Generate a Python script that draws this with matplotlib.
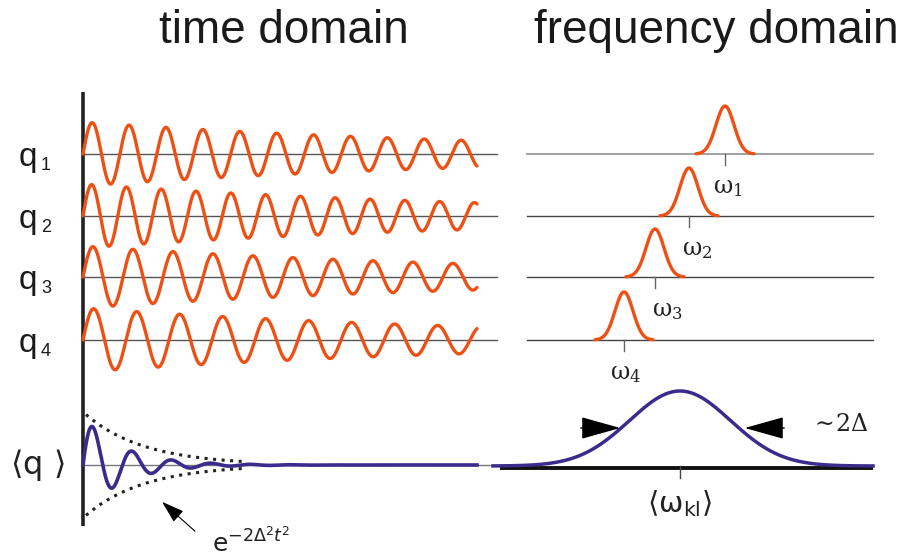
import numpy as np
import matplotlib.pyplot as plt
import matplotlib as mpl

mpl.rcParams['mathtext.fontset'] = 'dejavusans'

# time domain: individual oscillators q1..q4 (time in px units)
row_names = ['1', '2', '3', '4']
periods = [36.9, 34.8, 40.0, 43.0]
amp0 = [32, 32, 31, 32]
decay_time = 450.0
t_end = 394

# frequency domain: narrow lines at omega_1..omega_4
omega_centres = [725, 689, 655, 624]
omega_height = 48
omega_sigma = 9.0

# ensemble average <q> and its envelope
mean_period = 39.5
mean_amp = 49
mean_decay = 0.0257
env_amp = 53
env_decay = 0.017
env_end = 162

# broadened spectrum
mean_centre = 680
mean_height = 75
mean_sigma = 50.5

# layout (pixels)
W, H = 903, 556
x0 = 83
left_end = 497
row_y = [154, 216, 277, 340]
mean_y = 465
spec_x = (527, 873)
omega_label_x = [713, 682, 652, 610]

orange = '#EE5014'
blue = '#3C2A8C'

fig = plt.figure(figsize=(W / 100, H / 100), dpi=100)
ax = fig.add_axes([0, 0, 1, 1])
ax.set_xlim(0, W)
ax.set_ylim(H, 0)
ax.axis('off')

sans = 'Liberation Sans'

# titles
ax.text(284, 43, 'time domain', fontsize=33, family=sans, color='#1a1a1a',
        ha='center', va='baseline')
ax.text(716, 43, 'frequency domain', fontsize=33, family=sans, color='#1a1a1a',
        ha='center', va='baseline')

# vertical time axis
ax.plot([x0, x0], [92, 526], color='#222222', lw=2.6, solid_capstyle='butt')

t = np.linspace(0, t_end, 1500)
for i, name in enumerate(row_names):
    ry = row_y[i]
    ax.plot([x0, left_end], [ry, ry], color='#555555', lw=1, zorder=1)
    y = amp0[i] * np.exp(-t / decay_time) * np.sin(2 * np.pi * t / periods[i])
    ax.plot(x0 + t, ry - y, color=orange, lw=2.4, solid_capstyle='round', zorder=2)
    ax.text(19, ry + 12, 'q', fontsize=24, family=sans, color='#1a1a1a',
            ha='left', va='baseline')
    ax.text(41, ry + 16, name, fontsize=13, family=sans, color='#1a1a1a',
            ha='left', va='baseline')

    # spectrum line
    base_col = '#999999' if i == 0 else '#444444'
    ax.plot(spec_x, [ry, ry], color=base_col, lw=1.3 if i == 0 else 1, zorder=1)
    c = omega_centres[i]
    w = np.linspace(c - 29, c + 29, 300)
    g = omega_height * np.exp(-(w - c) ** 2 / (2 * omega_sigma ** 2))
    ax.plot(w, ry - g, color=orange, lw=2.4, solid_capstyle='round', zorder=2)
    ax.plot([c, c], [ry, ry + 11], color='#666666', lw=1)
    ax.text(omega_label_x[i], ry + 39, r'$\mathrm{\omega}_{%s}$' % name, fontsize=17,
            color='#222222', ha='left', va='baseline', math_fontfamily='dejavuserif')

# ensemble average
ax.plot([x0, left_end], [mean_y, mean_y], color='#777777', lw=1, zorder=1)
tm = np.linspace(0, t_end, 3000)
ym = mean_amp * np.exp(-mean_decay * tm) * np.sin(2 * np.pi * tm / mean_period)
ax.plot(x0 + tm, mean_y - ym, color=blue, lw=2.6, zorder=3)
te = np.linspace(3, env_end, 200)
env = env_amp * np.exp(-env_decay * te)
ax.plot(x0 + te, mean_y - env, color='#222222', lw=2.2, linestyle=(0, (1, 1.8)))
ax.plot(x0 + te, mean_y + env, color='#222222', lw=2.2, linestyle=(0, (1, 1.8)))
ax.text(10, mean_y + 9, r'$\langle\mathsf{q}\ \rangle$', fontsize=23,
        color='#222222', ha='left', va='baseline')

ax.annotate('', xy=(160, 500), xytext=(197, 533),
            arrowprops=dict(arrowstyle='-|>,head_length=1.4,head_width=0.45',
                            mutation_scale=10, color='black', lw=0.8))
ax.text(212, 552, r'$\mathsf{e}^{-2\Delta^{2}t^{2}}$', fontsize=18,
        color='#222222', ha='left', va='baseline')

# broadened spectrum
ax.plot([500, spec_x[1]], [468, 468], color='#111111', lw=2.8, solid_capstyle='butt')
wm = np.linspace(493, spec_x[1], 600)
gm = mean_height * np.exp(-(wm - mean_centre) ** 2 / (2 * mean_sigma ** 2))
ax.plot(wm, 466 - gm, color=blue, lw=2.5, zorder=3)
ax.plot([mean_centre, mean_centre], [466, 478], color='#444444', lw=1)
ax.text(mean_centre, 512, r'$\langle\mathrm{\omega}_{\mathsf{kl}}\rangle$', fontsize=21,
        color='#222222', ha='center', va='baseline')

arrow = dict(arrowstyle='-|>,head_length=2.5,head_width=0.7',
             mutation_scale=10, color='black', lw=1)
ax.annotate('', xy=(623, 428), xytext=(578, 428), arrowprops=arrow)
ax.annotate('', xy=(742, 428), xytext=(787, 428), arrowprops=arrow)
ax.text(810, 431, r'$\sim\!2\Delta$', fontsize=17, color='#222222',
        ha='left', va='baseline', math_fontfamily='dejavuserif')

fig.savefig('out.png', dpi=100)
